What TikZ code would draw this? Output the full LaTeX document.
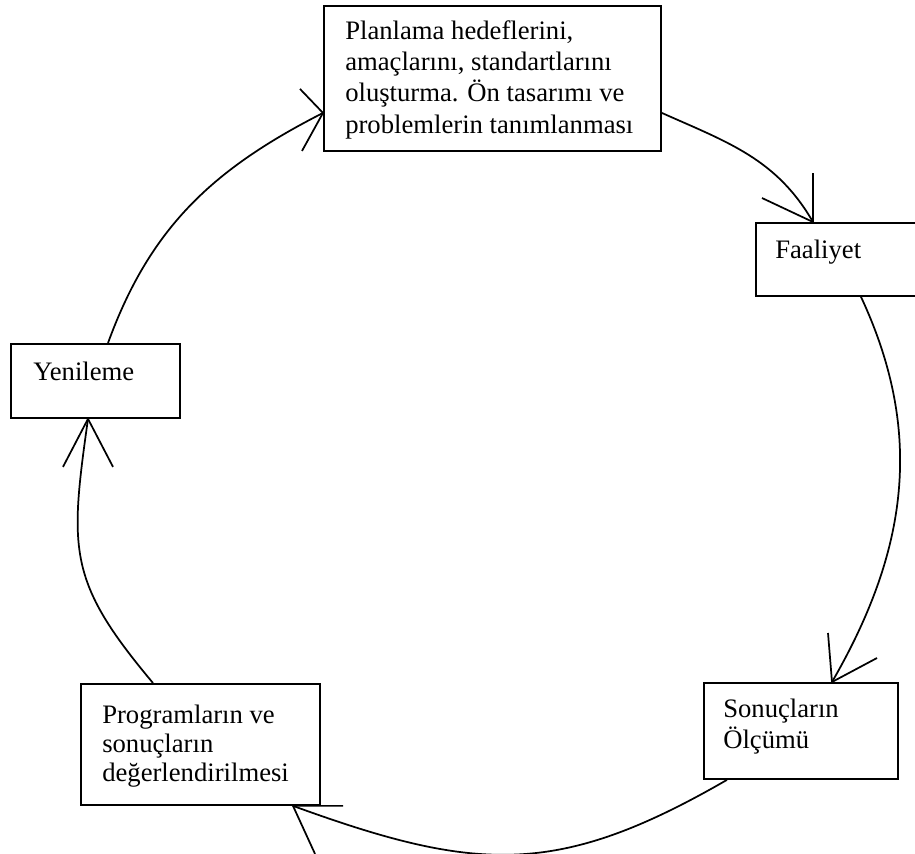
\documentclass[tikz,border=0pt]{standalone}
\usepackage{fontspec}
\setmainfont{Liberation Serif}
\usetikzlibrary{calc}
\begin{document}
\begin{tikzpicture}[x=0.75pt,y=0.75pt,
  box/.style={draw, line width=1.4pt, inner sep=0pt, anchor=north west},
  txt/.style={inner sep=0pt, anchor=north west, align=left, font=\fontsize{20}{23.5}\selectfont},
  conn/.style={line width=1.3pt},
  barb/.style={line width=1.3pt}]
\useasboundingbox (0,0) rectangle (915,-854);
\clip (0,0) rectangle (915,-854);
% boxes
\node[box, minimum width=252.75pt, minimum height=108.75pt] (top) at (323,-5) {};
\node[box, minimum width=135pt, minimum height=54.75pt] (faal) at (755,-222) {};
\node[box, minimum width=126.75pt, minimum height=55.5pt] (yen) at (10,-343) {};
\node[box, minimum width=179.25pt, minimum height=90.75pt] (prog) at (80,-683) {};
\node[box, minimum width=145.5pt, minimum height=72pt] (son) at (703,-682) {};
% texts
\node[txt] (top-t) at (345,-20) {Planlama hedeflerini,\\amaçlarını, standartlarını\\oluşturma. Ön tasarımı ve\\problemlerin tanımlanması};
\node[txt] (faal-t) at (775,-240) {Faaliyet};
\node[txt] (yen-t) at (33,-362) {Yenileme};
\node[txt, font=\fontsize{20}{21.6}\selectfont] (prog-t) at (102,-705) {Programların ve\\sonuçların\\değerlendirilmesi};
\node[txt, font=\fontsize{20}{23.25}\selectfont] (son-t) at (723,-699) {Sonuçların\\Ölçümü};
% connector end points on the box borders
\coordinate (y-out) at ($(yen.north west)+(98,0)$);
\coordinate (t-in)  at ($(top.west)+(0,-34.5)$);
\coordinate (t-out) at ($(top.east)+(0,-34.5)$);
\coordinate (f-in)  at ($(faal.north west)+(58,0)$);
\coordinate (f-out) at ($(faal.south west)+(106,0)$);
\coordinate (s-in)  at ($(son.north west)+(129,0)$);
\coordinate (s-out) at ($(son.south west)+(24,0)$);
\coordinate (p-in)  at ($(prog.south west)+(213,0)$);
\coordinate (p-out) at ($(prog.north west)+(73,0)$);
\coordinate (y-in)  at ($(yen.south west)+(78,0)$);
% connectors
\draw[conn] (y-out) to[out=70,in=207] (t-in);
\draw[conn] (t-out) to[out=-24,in=120] (f-in);
\draw[conn] (f-out) to[out=-65,in=60] (s-in);
\draw[conn] (s-out) to[out=-150,in=-20,looseness=1.15] (p-in);
\draw[conn] (p-out) to[out=130,in=-98,looseness=1.25] (y-in);
% open arrowheads
\draw[barb] (t-in) -- +(-23,24) (t-in) -- +(-21,-38);
\draw[barb] (f-in) -- +(0,49) (f-in) -- +(-51,24);
\draw[barb] (s-in) -- +(-4,49) (s-in) -- +(45,24);
\draw[barb] (p-in) -- +(50,0) (p-in) -- +(22,-48);
\draw[barb] (y-in) -- +(-25,-48) (y-in) -- +(25,-48);
\end{tikzpicture}
\end{document}
